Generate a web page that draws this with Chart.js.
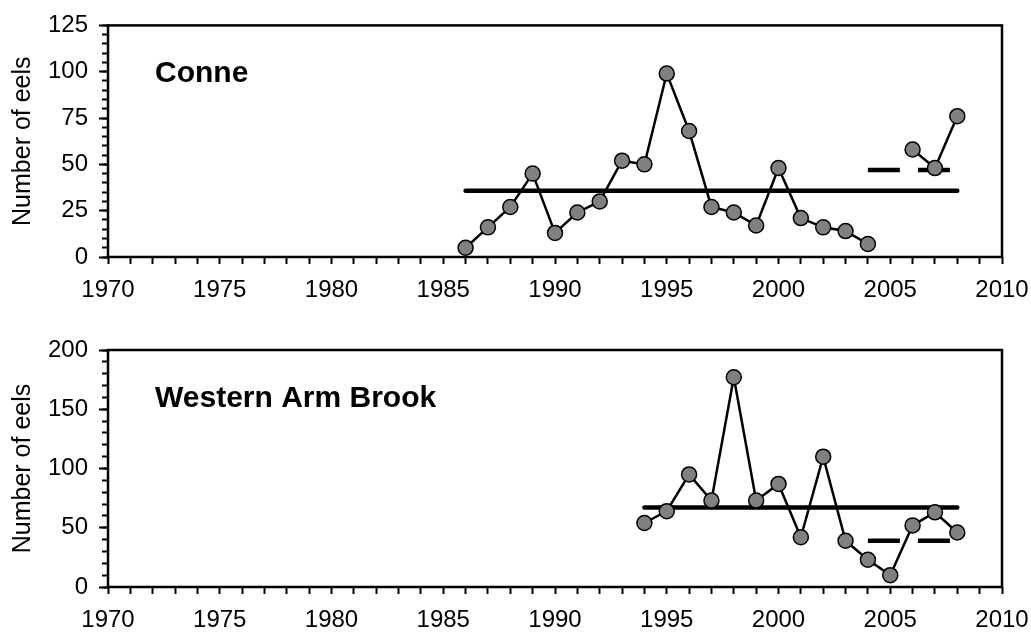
<!DOCTYPE html>
<html>
<head>
<meta charset="utf-8">
<script src="https://cdn.jsdelivr.net/npm/chart.js@4.4.1/dist/chart.umd.min.js"></script>
<style>
  html, body { margin: 0; padding: 0; background: #fff; }
  #wrap { position: relative; width: 1031px; height: 632px; }
  canvas { position: absolute; left: 0; }
</style>
</head>
<body>
<div id="wrap">
  <canvas id="conne" width="1031" height="316" style="top:0"></canvas>
  <canvas id="wab" width="1031" height="316" style="top:316px"></canvas>
</div>
<script>
// Conne River eel counts (no count in 2005)
const conneYears  = [1986, 1987, 1988, 1989, 1990, 1991, 1992, 1993, 1994, 1995, 1996, 1997,
                     1998, 1999, 2000, 2001, 2002, 2003, 2004, 2005, 2006, 2007, 2008];
const conneCounts = [5, 16, 27, 45, 13, 24, 30, 52, 50, 99, 68, 27,
                     24, 17, 48, 21, 16, 14, 7, null, 58, 48, 76];
// long-term mean and recent (2004-2008) mean
const conneMeanYears   = [1986, 2008];
const conneMean        = [35.7, 35.7];
const conneRecentYears = [2004, 2008];
const conneRecent      = [47, 47];

// Western Arm Brook eel counts
const wabYears  = [1994, 1995, 1996, 1997, 1998, 1999, 2000, 2001, 2002, 2003, 2004, 2005, 2006, 2007, 2008];
const wabCounts = [54, 64, 95, 73, 177, 73, 87, 42, 110, 39, 23, 10, 52, 63, 46];
const wabMeanYears   = [1994, 2008];
const wabMean        = [67, 67];
const wabRecentYears = [2004, 2008];
const wabRecent      = [39, 39];

// axis settings
const yearMin = 1970, yearMax = 2010, yearLabelStep = 5;
const conneYMax = 125, conneYStep = 25, conneYMinor = 5;
const wabYMax = 200, wabYStep = 50, wabYMinor = 10;

const FONT = '"Liberation Sans", Arial, Helvetica, sans-serif';

function pts(xs, ys) { return xs.map((x, i) => ({ x: x, y: ys[i] })); }

// box around the plotting area plus the river name inside it
const framePlugin = {
  id: 'frame',
  afterDraw(chart, args, opts) {
    const { ctx, chartArea: a } = chart;
    ctx.save();
    ctx.strokeStyle = '#000';
    ctx.lineWidth = 2.5;
    ctx.strokeRect(a.left, a.top, a.right - a.left, a.bottom - a.top);
    ctx.fillStyle = '#000';
    ctx.font = 'bold 30px ' + FONT;
    ctx.textBaseline = 'alphabetic';
    ctx.textAlign = 'left';
    ctx.fillText(opts.label, a.left + 47, a.top + 57);
    ctx.restore();
  }
};

function makeChart(id, cfg) {
  const layoutTop = cfg.top;
  const xAxisHeight = 316 - cfg.bottom;
  return new Chart(document.getElementById(id), {
    type: 'line',
    data: {
      datasets: [
        {
          data: pts(cfg.years, cfg.counts),
          borderColor: '#000',
          borderWidth: 2.5,
          pointRadius: 7.5,
          pointBackgroundColor: '#808080',
          pointBorderColor: '#000',
          pointBorderWidth: 1.5,
          spanGaps: false,
          tension: 0
        },
        {
          data: pts(cfg.meanYears, cfg.mean),
          borderColor: '#000',
          borderWidth: 4.5,
          borderCapStyle: 'round',
          pointRadius: 0
        },
        {
          data: pts(cfg.recentYears, cfg.recent),
          borderColor: '#000',
          borderWidth: 4.5,
          borderDash: [32, 18],
          borderCapStyle: 'butt',
          pointRadius: 0
        }
      ]
    },
    options: {
      responsive: false,
      animation: false,
      devicePixelRatio: 1,
      layout: { padding: { top: layoutTop, right: 29, left: 0, bottom: 0 } },
      plugins: {
        legend: { display: false },
        tooltip: { enabled: false },
        frame: { label: cfg.label }
      },
      scales: {
        x: {
          type: 'linear',
          min: yearMin, max: yearMax,
          afterFit: s => { s.height = xAxisHeight; s.paddingLeft = 0; s.paddingRight = 0; },
          border: { display: false },
          grid: { drawOnChartArea: false, drawTicks: true, tickLength: 7, tickWidth: 2, tickColor: '#000' },
          ticks: {
            stepSize: 1, autoSkip: false, maxRotation: 0, minRotation: 0,
            padding: 12, color: '#000',
            font: { family: FONT, size: 24 },
            callback: v => (v % yearLabelStep === 0 ? String(v) : '')
          }
        },
        y: {
          position: 'left', weight: 1,
          min: 0, max: cfg.yMax,
          afterFit: s => { s.width = 108; },
          border: { display: false },
          grid: { drawOnChartArea: false, drawTicks: true, tickLength: 9, tickWidth: 2, tickColor: '#000' },
          ticks: { stepSize: cfg.yStep, padding: 11, color: '#000', font: { family: FONT, size: 24 } },
          title: { display: true, text: 'Number of eels', color: '#000',
                   font: { family: FONT, size: 25 }, padding: { top: 8, bottom: 0 } }
        },
        yMinor: {
          position: 'left', weight: 0,
          min: 0, max: cfg.yMax,
          afterFit: s => { s.width = 0; },
          border: { display: false },
          grid: { drawOnChartArea: false, drawTicks: true, tickLength: 6, tickWidth: 2, tickColor: '#000' },
          ticks: { stepSize: cfg.yMinor, display: false }
        }
      }
    },
    plugins: [framePlugin]
  });
}

makeChart('conne', {
  label: 'Conne', top: 21, bottom: 257,
  years: conneYears, counts: conneCounts,
  meanYears: conneMeanYears, mean: conneMean,
  recentYears: conneRecentYears, recent: conneRecent,
  yMax: conneYMax, yStep: conneYStep, yMinor: conneYMinor
});

makeChart('wab', {
  label: 'Western Arm Brook', top: 34, bottom: 271,
  years: wabYears, counts: wabCounts,
  meanYears: wabMeanYears, mean: wabMean,
  recentYears: wabRecentYears, recent: wabRecent,
  yMax: wabYMax, yStep: wabYStep, yMinor: wabYMinor
});
</script>
</body>
</html>
